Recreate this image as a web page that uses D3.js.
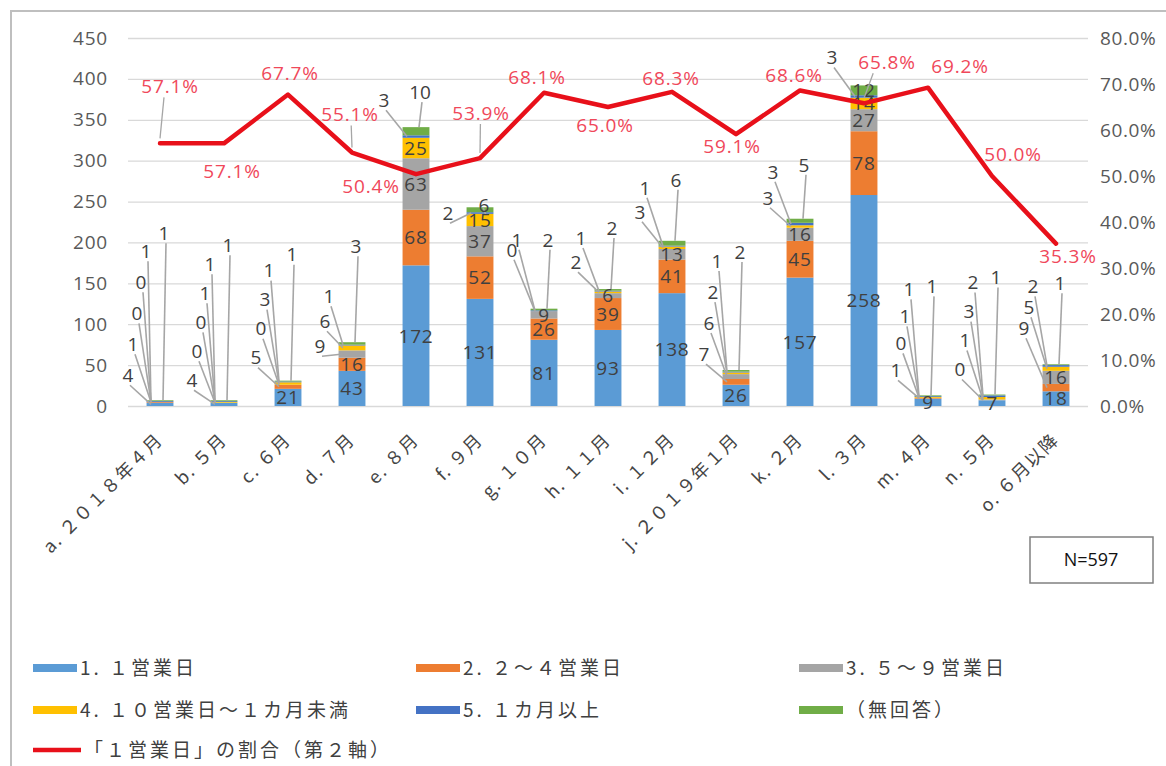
<!DOCTYPE html>
<html><head><meta charset="utf-8">
<script src="https://cdn.jsdelivr.net/npm/d3@7"></script>
<style>
body{margin:0;background:#fff}
svg{display:block}
text{font-family:"Open Sans","Noto Sans CJK JP",sans-serif}
.cjk{font-family:"Noto Sans CJK JP","Open Sans",sans-serif}
</style>
</head><body>
<svg id="c" width="1166" height="766"></svg>
<script>
// ---------- data ----------
const categories = ["a. ２０１８年４月","b. ５月","c. ６月","d. ７月","e. ８月","f. ９月","g. １０月","h. １１月","i. １２月","j. ２０１９年１月","k. ２月","l. ３月","m. ４月","n. ５月","o. ６月以降"];
const s1 = [4,4,21,43,172,131,81,93,138,26,157,258,9,7,18];      // 1. 1営業日
const s2 = [1,0,5,16,68,52,26,39,41,7,45,78,1,0,9];              // 2. 2～4営業日
const s3 = [0,0,0,9,63,37,9,6,13,6,16,27,0,1,16];                // 3. 5～9営業日
const s4 = [0,1,3,6,25,15,0,2,3,2,3,14,1,3,5];                   // 4. 10営業日～1カ月未満
const s5 = [1,1,1,1,3,2,1,1,1,1,3,3,1,2,2];                      // 5. 1カ月以上
const s6 = [1,1,1,3,10,6,2,2,6,2,5,12,1,1,1];                    // (無回答)
const ratio = [57.1,57.1,67.7,55.1,50.4,53.9,68.1,65.0,68.3,59.1,68.6,65.8,69.2,50.0,35.3]; // 「1営業日」の割合 %
const seriesNames = ["1. １営業日","2. ２～４営業日","3. ５～９営業日","4. １０営業日～１カ月未満","5. １カ月以上","（無回答）"];
const lineName = "「１営業日」の割合（第２軸）";
const leftTicks = [0,50,100,150,200,250,300,350,400,450];
const rightTicks = [0,0.1,0.2,0.3,0.4,0.5,0.6,0.7,0.8];
const nLabel = "N=597";

// ---------- layout / style ----------
const colors = ["#5b9bd5","#ed7d31","#a5a5a5","#ffc000","#4472c4","#70ad47"];
const lineColor = "#e8101a";
const pctColor = "#f0485a";
const txtColor = "#404040";
const axisColor = "#595959";
const pctOffset = [[10,-57],[8,28],[2,-21],[-2,-38],[-45,12],[1,-45],[-7,-16],[-3,18],[-1,-14],[-4,12],[-6,-15],[23,-41],[32,-22],[21,-22],[12,13]];
// outside-label layout: lift of first label above bar top, vertical step, extra gap of last label
const outLift = [25,20,23,-4,27,-6,59,27,29,16,21,28,25,25,36];
const outStep = [31,29,29,25,0,0,10,24,24,31,26,0,27,29,21];
const outLast = [18,19,16,50,8,8,0,10,8,9,7,0,3,5,3];
const outDx = [-32,-27,-23,-19,-14];
const forcedInside = [[6,2],[7,2]];

const svg = d3.select("#c");
svg.append("rect").attr("width",1166).attr("height",766).attr("fill","#fff");
svg.append("rect").attr("x",11).attr("y",11).attr("width",1180).attr("height",800)
  .attr("fill","none").attr("stroke","#bfbfbf").attr("stroke-width",2);

const x = d3.scaleBand().domain(categories).range([128,1088]).paddingInner(0.58).paddingOuter(0.29);
const y = d3.scaleLinear().domain([0,450]).range([406,38]);
const y2 = d3.scaleLinear().domain([0,0.8]).range([406,38]);
const cx = c => x(c) + x.bandwidth()/2;

// left axis + gridlines
const gL = svg.append("g").attr("transform","translate(128,0)")
  .call(d3.axisLeft(y).tickValues(leftTicks).tickSize(-960).tickPadding(20));
gL.select(".domain").remove();
gL.selectAll(".tick line").attr("stroke","#d9d9d9").attr("stroke-width",1.3);
gL.selectAll(".tick text").attr("fill",axisColor).style("font-size","19px").style("letter-spacing","0.8px")
  .style("font-family","'Open Sans',sans-serif");

// right axis
const gR = svg.append("g").attr("transform","translate(1088,0)")
  .call(d3.axisRight(y2).tickValues(rightTicks).tickSize(0).tickPadding(12).tickFormat(d3.format(".1%")));
gR.select(".domain").remove();
gR.selectAll(".tick text").attr("fill",axisColor).style("font-size","19px").style("letter-spacing","0.6px")
  .style("font-family","'Open Sans',sans-serif");

// x labels
svg.append("g").selectAll("text").data(categories).join("text")
  .attr("class","cjk")
  .attr("transform",d=>`translate(${cx(d)+4},441) rotate(-45)`)
  .attr("text-anchor","end")
  .attr("fill","#454545").style("font-size","18px").style("letter-spacing","1.5px")
  .text(d=>d);

// stacked bars
const keys = ["s1","s2","s3","s4","s5","s6"];
const all = [s1,s2,s3,s4,s5,s6];
const rows = categories.map((c,i)=>{const r={cat:c}; keys.forEach((k,j)=>r[k]=all[j][i]); return r;});
const stacked = d3.stack().keys(keys)(rows);

svg.append("g").selectAll("g").data(stacked).join("g")
  .attr("fill",(d,i)=>colors[i])
  .selectAll("rect").data(d=>d).join("rect")
  .attr("x",d=>x(d.data.cat)).attr("width",x.bandwidth())
  .attr("y",d=>y(d[1])).attr("height",d=>y(d[0])-y(d[1]));

// bar labels
const gLead = svg.append("g");
const gLab = svg.append("g");
function isInside(i,j,v){
  if (forcedInside.some(p=>p[0]===i&&p[1]===j)) return true;
  if (j===0) return v>=7;
  return v>=12;
}
categories.forEach((c,i)=>{
  const c0 = cx(c);
  const total = d3.sum(all, a=>a[i]);
  const top = y(total);
  const outs = [];
  all.forEach((arr,j)=>{
    const v = arr[i];
    const lo = d3.sum(all.slice(0,j), a=>a[i]);
    const segMid = y(lo + v/2);
    if (isInside(i,j,v)) {
      gLab.append("text").attr("x",c0).attr("y",segMid).attr("dy","0.36em")
        .attr("text-anchor","middle").attr("fill",txtColor)
        .style("font-size","19px").style("letter-spacing","0.8px").text(v);
    } else outs.push({j,v,segMid});
  });
  const n = outs.length;
  let prevY = top - outLift[i];
  outs.forEach((o,k)=>{
    let lx, ly, tx, ty;
    if (k < n-1 || n===1) {
      lx = c0 + outDx[Math.min(k,outDx.length-1)]; ly = top - outLift[i] - k*outStep[i];
      tx = c0 - 9; ty = Math.max(o.segMid, top+1);
    } else {
      lx = c0 + 4; ly = prevY - outLast[i];
      tx = c0 + 3; ty = top;
    }
    prevY = ly;
    gLead.append("line").attr("x1",lx+2).attr("y1",ly+10).attr("x2",tx).attr("y2",ty)
      .attr("stroke","#a6a6a6").attr("stroke-width",1.6);
    gLab.append("text").attr("x",lx).attr("y",ly).attr("dy","0.36em")
      .attr("text-anchor","middle").attr("fill",txtColor)
      .style("font-size","19px").text(o.v);
  });
});

// ratio line
const pts = categories.map((c,i)=>[cx(c), y2(ratio[i]/100)]);
svg.append("path").datum(pts).attr("d",d3.line())
  .attr("fill","none").attr("stroke",lineColor).attr("stroke-width",4.5)
  .attr("stroke-linejoin","round").attr("stroke-linecap","round");

// ratio labels
const gP = svg.append("g");
pts.forEach((p,i)=>{
  const [dx,dy] = pctOffset[i];
  if (Math.abs(dy) > 30) {
    gP.append("line").attr("x1",p[0]+dx*0.4).attr("y1",p[1]+dy+(dy<0?11:-11))
      .attr("x2",p[0]).attr("y2",p[1]+(dy<0?-5:5))
      .attr("stroke","#a6a6a6").attr("stroke-width",1.3);
  }
  gP.append("text").attr("x",p[0]+dx).attr("y",p[1]+dy).attr("dy","0.36em")
    .attr("text-anchor","middle").attr("fill",pctColor)
    .style("font-size","19px").style("letter-spacing","0.8px")
    .text(d3.format(".1f")(ratio[i])+"%");
});

// N box
svg.append("rect").attr("x",1030).attr("y",537).attr("width",123).attr("height",46)
  .attr("fill","#fff").attr("stroke","#808080").attr("stroke-width",1.5);
svg.append("text").attr("x",1091).attr("y",560).attr("dy","0.36em").attr("text-anchor","middle")
  .attr("fill","#111").style("font-size","18px").text(nLabel);

// legend
const legX = [33,416,799], legY = [668,710,750];
seriesNames.forEach((nm,i)=>{
  const lx = legX[i%3], ly = legY[Math.floor(i/3)];
  svg.append("rect").attr("x",lx).attr("y",ly-4).attr("width",44).attr("height",8).attr("fill",colors[i]);
  svg.append("text").attr("class","cjk").attr("x",lx+47).attr("y",ly).attr("dy","0.36em")
    .attr("fill","#404040").style("font-size","19px").style("letter-spacing","3px").text(nm);
});
svg.append("line").attr("x1",33).attr("x2",81).attr("y1",legY[2]).attr("y2",legY[2])
  .attr("stroke",lineColor).attr("stroke-width",4.5);
svg.append("text").attr("class","cjk").attr("x",84).attr("y",legY[2]).attr("dy","0.36em")
  .attr("fill","#404040").style("font-size","19px").style("letter-spacing","3px").text(lineName);
</script>
</body></html>
